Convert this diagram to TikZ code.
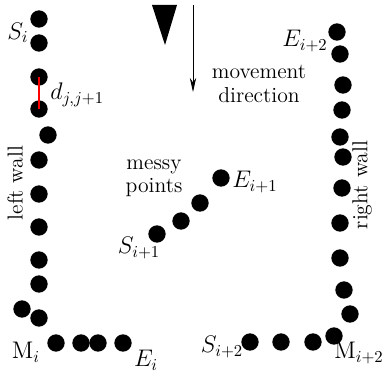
\documentclass[tikz,border=0pt]{standalone}
\usepackage{amsmath,amssymb}
\usetikzlibrary{positioning,arrows.meta}

\begin{document}
\begin{tikzpicture}[
  x=0.6pt, y=-0.6pt,
  pnt/.style={circle,fill=black,inner sep=0pt,minimum size=10.4pt},
  lbl/.style={font=\fontsize{14}{16}\selectfont,inner sep=0pt},
  txt/.style={font=\fontsize{13}{14}\selectfont,align=center,inner sep=0pt}
]
\useasboundingbox (0,0) rectangle (385,375);
% left wall points
\foreach \x/\y [count=\k] in {39/19,39/43,39/77,39/109,48/135,39/160,39/194,39/227,39/260,39/284,22/309,39/318}
  \node[pnt] (l\k) at (\x,\y) {};
\foreach \x [count=\k] in {56,81,98,123}
  \node[pnt] (lb\k) at (\x,343) {};
% right wall points
\foreach \x/\y [count=\k] in {337/32,340/54,343/85,342/110,340/137,343/157,342/188,340/223,340/258,344/290,350/314,334/336}
  \node[pnt] (r\k) at (\x,\y) {};
\foreach \x [count=\k] in {313,281,250}
  \node[pnt] (rb\k) at (\x,342) {};
% messy points
\foreach \x/\y [count=\k] in {157/234,181/221,200/203,221/178}
  \node[pnt] (m\k) at (\x,\y) {};

\draw[red,line width=0.8pt] (l3.center) -- (l4.center);

% movement direction
\fill (152,5) -- (177,5) -- (165,45) -- cycle;
\coordinate (mvtop) at (193,5);
\coordinate (mvend) at (193,92);
\draw[line width=0.5pt,-{Stealth[length=8.5pt,width=3.8pt]}] (mvtop) -- (mvend);
\node[txt] (mv) at (259,84) {movement\\direction};

% labels
\node[lbl] (si) at (18,33) {$S_i$};
\node[lbl,anchor=west] (dj) at (50,95) {$d_{j,j+1}$};
\node[lbl,anchor=east] (ei2) at (328,41) {$E_{i+2}$};
\node[lbl,anchor=west] (ei1) at (232,182) {$E_{i+1}$};
\node[lbl] (si1) at (139,248) {$S_{i+1}$};
\node[lbl] (mi) at (26,352) {$\mathrm{M}_i$};
\node[lbl] (ei) at (146,360) {$E_i$};
\node[lbl] (si2) at (222,347) {$S_{i+2}$};
\node[lbl,anchor=east] (mi2) at (384,353) {$\mathrm{M}_{i+2}$};
\node[txt] (mp) at (154,178) {messy\\points};
\node[txt,rotate=90] (lw) at (15,183) {left wall};
\node[txt,rotate=90] (rw) at (362,185) {right wall};
\end{tikzpicture}
\end{document}
